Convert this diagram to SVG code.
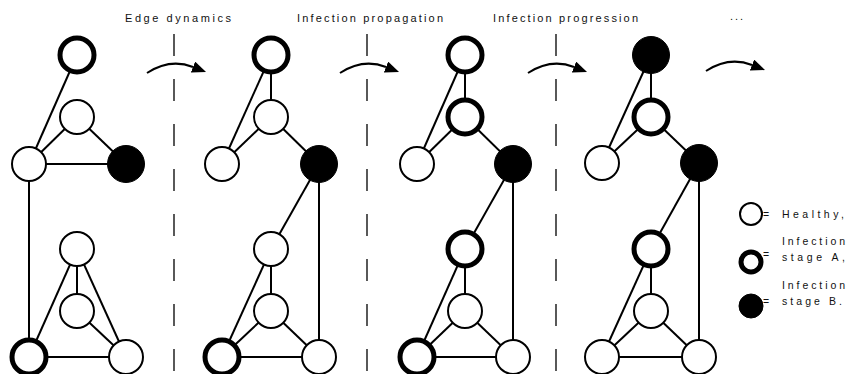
<svg xmlns="http://www.w3.org/2000/svg" width="848" height="374" viewBox="0 0 848 374">
<style>
.n{fill:#fff;stroke:#000;stroke-width:2}
.t{fill:#fff;stroke:#000;stroke-width:5}
.b{fill:#000;stroke:#000;stroke-width:1}
.e line{stroke:#000;stroke-width:2}
.sep{stroke:#000;stroke-width:1.3;stroke-dasharray:22 23}
.arr{fill:none;stroke:#000;stroke-width:2;marker-end:url(#ah)}
.lbl{font-family:"Liberation Sans",Arial,sans-serif;font-size:11px;fill:#111}
.leg{font-family:"Liberation Sans",Arial,sans-serif;font-size:10.5px;fill:#111}
</style>
<defs>
<marker id="ah" markerUnits="userSpaceOnUse" markerWidth="14" markerHeight="12" refX="0" refY="5" orient="auto" viewBox="0 0 12 10">
<path d="M0,0 L12,5 L0,10 z" fill="#000"/>
</marker>
</defs>
<g id="labels">
<text class="lbl" x="125" y="22" textLength="106" lengthAdjust="spacing">Edge dynamics</text>
<text class="lbl" x="297" y="22" textLength="146" lengthAdjust="spacing">Infection propagation</text>
<text class="lbl" x="493" y="22" textLength="145" lengthAdjust="spacing">Infection progression</text>
<text class="lbl" x="730" y="20" textLength="13" lengthAdjust="spacing">...</text>
</g>
<g id="separators">
<line class="sep" x1="174" y1="34" x2="174" y2="374"/>
<line class="sep" x1="367" y1="34" x2="367" y2="374"/>
<line class="sep" x1="556" y1="34" x2="556" y2="374"/>
</g>
<g id="arrows">
<path class="arr" d="M147,73 Q170,58 193,67"/>
<path class="arr" d="M340,73 Q363,58 386,67"/>
<path class="arr" d="M528,73 Q551,58 574,67"/>
<path class="arr" d="M706,71 Q729,56 752,65"/>
</g>
<g id="connectors" class="e">
<!-- graph 1 -->
<line x1="77" y1="55" x2="29" y2="164"/>
<line x1="77" y1="117" x2="29" y2="164"/>
<line x1="77" y1="117" x2="126" y2="164"/>
<line x1="29" y1="164" x2="126" y2="164"/>
<line x1="29" y1="164" x2="29" y2="357"/>
<line x1="77" y1="249" x2="29" y2="357"/>
<line x1="77" y1="249" x2="77" y2="311"/>
<line x1="77" y1="249" x2="126" y2="357"/>
<line x1="77" y1="311" x2="126" y2="357"/>
<line x1="29" y1="357" x2="126" y2="357"/>
<!-- graph 2 -->
<line x1="271" y1="55" x2="222" y2="164"/>
<line x1="271" y1="55" x2="271" y2="117"/>
<line x1="271" y1="117" x2="222" y2="164"/>
<line x1="271" y1="117" x2="319" y2="164"/>
<line x1="319" y1="164" x2="271" y2="249"/>
<line x1="319" y1="164" x2="319" y2="357"/>
<line x1="271" y1="249" x2="271" y2="311"/>
<line x1="271" y1="249" x2="222" y2="357"/>
<line x1="271" y1="311" x2="222" y2="357"/>
<line x1="271" y1="311" x2="319" y2="357"/>
<line x1="222" y1="357" x2="319" y2="357"/>
<!-- graph 3 -->
<line x1="465" y1="55" x2="417" y2="164"/>
<line x1="465" y1="55" x2="465" y2="117"/>
<line x1="465" y1="117" x2="417" y2="164"/>
<line x1="465" y1="117" x2="513" y2="164"/>
<line x1="513" y1="164" x2="465" y2="249"/>
<line x1="513" y1="164" x2="513" y2="357"/>
<line x1="465" y1="249" x2="465" y2="311"/>
<line x1="465" y1="249" x2="417" y2="357"/>
<line x1="465" y1="311" x2="417" y2="357"/>
<line x1="465" y1="311" x2="513" y2="357"/>
<line x1="417" y1="357" x2="513" y2="357"/>
<!-- graph 4 -->
<line x1="651" y1="55" x2="602" y2="163"/>
<line x1="651" y1="55" x2="651" y2="117"/>
<line x1="651" y1="117" x2="602" y2="163"/>
<line x1="651" y1="117" x2="699" y2="163"/>
<line x1="699" y1="163" x2="651" y2="249"/>
<line x1="699" y1="163" x2="699" y2="357"/>
<line x1="651" y1="249" x2="651" y2="311"/>
<line x1="651" y1="249" x2="602" y2="357"/>
<line x1="651" y1="311" x2="602" y2="357"/>
<line x1="651" y1="311" x2="699" y2="357"/>
<line x1="602" y1="357" x2="699" y2="357"/>
</g>
<g id="graph1">
<circle id="g1a" class="t" cx="77" cy="55" r="17"/>
<circle id="g1b" class="n" cx="77" cy="117" r="17"/>
<circle id="g1c" class="n" cx="29" cy="164" r="17"/>
<circle id="g1d" class="b" cx="126" cy="164" r="18.5"/>
<circle id="g1e" class="n" cx="77" cy="249" r="17"/>
<circle id="g1f" class="n" cx="77" cy="311" r="17"/>
<circle id="g1g" class="t" cx="29" cy="357" r="17"/>
<circle id="g1h" class="n" cx="126" cy="357" r="17"/>
</g>
<g id="graph2">
<circle id="g2a" class="t" cx="271" cy="55" r="17"/>
<circle id="g2b" class="n" cx="271" cy="117" r="17"/>
<circle id="g2c" class="n" cx="222" cy="164" r="17"/>
<circle id="g2d" class="b" cx="319" cy="164" r="18.5"/>
<circle id="g2e" class="n" cx="271" cy="249" r="17"/>
<circle id="g2f" class="n" cx="271" cy="311" r="17"/>
<circle id="g2g" class="t" cx="222" cy="357" r="17"/>
<circle id="g2h" class="n" cx="319" cy="357" r="17"/>
</g>
<g id="graph3">
<circle id="g3a" class="t" cx="465" cy="55" r="17"/>
<circle id="g3b" class="t" cx="465" cy="117" r="17"/>
<circle id="g3c" class="n" cx="417" cy="164" r="17"/>
<circle id="g3d" class="b" cx="513" cy="164" r="18.5"/>
<circle id="g3e" class="t" cx="465" cy="249" r="17"/>
<circle id="g3f" class="n" cx="465" cy="311" r="17"/>
<circle id="g3g" class="t" cx="417" cy="357" r="17"/>
<circle id="g3h" class="n" cx="513" cy="357" r="17"/>
</g>
<g id="graph4">
<circle id="g4a" class="b" cx="651" cy="55" r="18.5"/>
<circle id="g4b" class="t" cx="651" cy="117" r="17"/>
<circle id="g4c" class="n" cx="602" cy="163" r="17"/>
<circle id="g4d" class="b" cx="699" cy="163" r="18.5"/>
<circle id="g4e" class="t" cx="651" cy="249" r="17"/>
<circle id="g4f" class="n" cx="651" cy="311" r="17"/>
<circle id="g4g" class="n" cx="602" cy="357" r="17"/>
<circle id="g4h" class="n" cx="699" cy="357" r="17"/>
</g>
<g id="legend">
<circle class="n" cx="751" cy="214" r="11" stroke-width="1.8"/>
<text class="leg" x="763" y="218">=</text>
<text class="leg" x="782" y="218" textLength="62" lengthAdjust="spacing">Healthy,</text>
<circle class="t" cx="751" cy="262" r="10" stroke-width="4"/>
<text class="leg" x="763" y="258">=</text>
<text class="leg" x="782" y="245" textLength="63" lengthAdjust="spacing">Infection</text>
<text class="leg" x="782" y="261" textLength="63" lengthAdjust="spacing">stage A,</text>
<circle class="b" cx="751" cy="306" r="12"/>
<text class="leg" x="763" y="305">=</text>
<text class="leg" x="782" y="289" textLength="63" lengthAdjust="spacing">Infection</text>
<text class="leg" x="782" y="305" textLength="60" lengthAdjust="spacing">stage B.</text>
</g>
</svg>
